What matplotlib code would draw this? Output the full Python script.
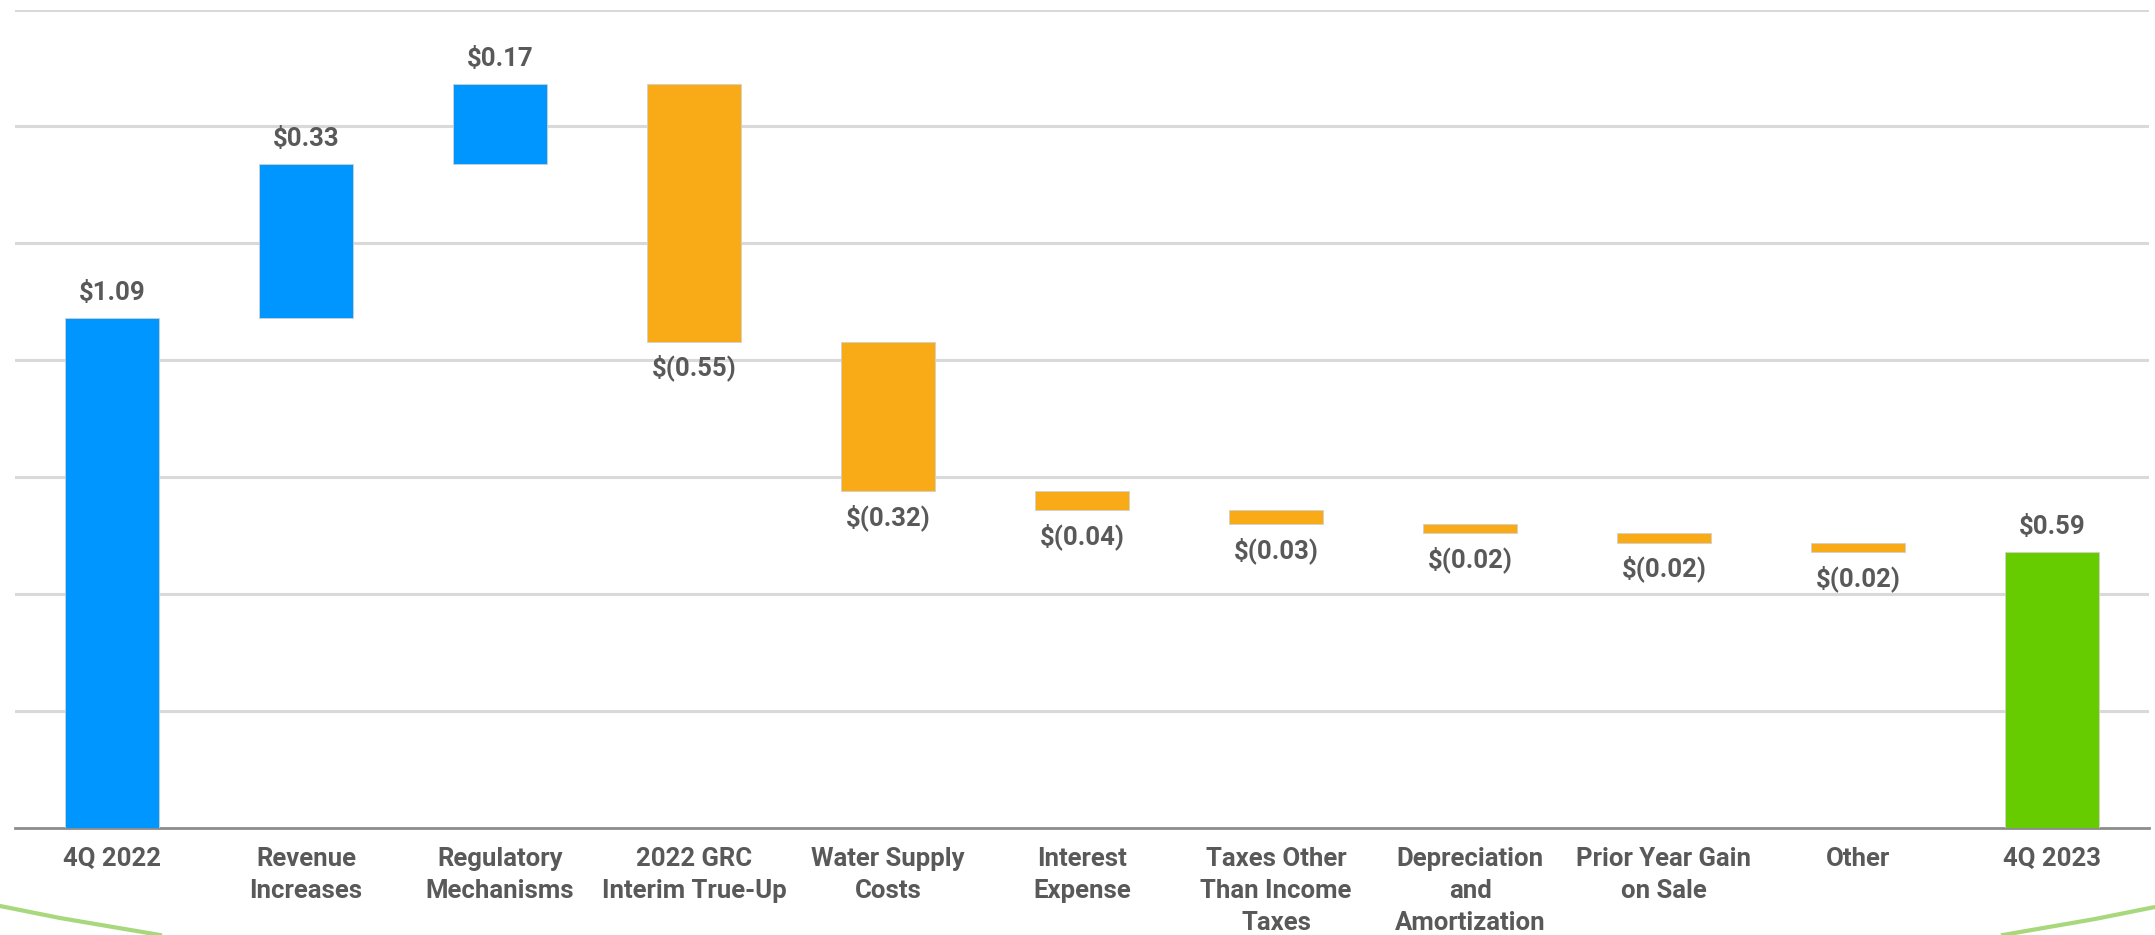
import numpy as np
import matplotlib.pyplot as plt
from matplotlib.lines import Line2D

# EPS bridge, 4Q 2022 -> 4Q 2023
categories = ["4Q 2022", "Revenue\nIncreases", "Regulatory\nMechanisms", "2022 GRC\nInterim True-Up",
              "Water Supply\nCosts", "Interest\nExpense", "Taxes Other\nThan Income\nTaxes",
              "Depreciation\nand\nAmortization", "Prior Year Gain\non Sale", "Other", "4Q 2023"]
start_value = 1.09
deltas = [0.33, 0.17, -0.55, -0.32, -0.04, -0.03, -0.02, -0.02, -0.02]
end_value = 0.59

BLUE = "#0096FF"
ORANGE = "#F9AB17"
GREEN = "#66CC00"
TEXT = "#595959"

plt.rcParams['font.family'] = ['Roboto', 'DejaVu Sans']

fig = plt.figure(figsize=(21.55, 9.35), dpi=100)
ax = fig.add_axes([15 / 2155, 107 / 935, 2134 / 2155, 818.5 / 935])

# build the floating bars
bottoms, heights, colors, labels, above = [], [], [], [], []
bottoms.append(0); heights.append(start_value); colors.append(BLUE)
labels.append(f"${start_value:.2f}"); above.append(True)
level = start_value
for d in deltas:
    new = level + d
    bottoms.append(min(level, new))
    heights.append(abs(d))
    if d >= 0:
        colors.append(BLUE); labels.append(f"${d:.2f}"); above.append(True)
    else:
        colors.append(ORANGE); labels.append(f"$({-d:.2f})"); above.append(False)
    level = new
bottoms.append(0); heights.append(end_value); colors.append(GREEN)
labels.append(f"${end_value:.2f}"); above.append(True)

x = np.arange(len(categories))
ax.bar(x, heights, bottom=bottoms, width=0.48, color=colors, edgecolor="#d0d0d0",
       linewidth=0.6, zorder=3)

for xi, b, h, lab, up in zip(x, bottoms, heights, labels, above):
    if up:
        ax.annotate(lab, (xi, b + h), xytext=(0, 18), textcoords="offset points",
                    ha="center", va="center", fontsize=18.5, fontweight="bold", color=TEXT)
    else:
        ax.annotate(lab, (xi, b), xytext=(0, -19), textcoords="offset points",
                    ha="center", va="center", fontsize=18.5, fontweight="bold", color=TEXT)

ax.set_xlim(-0.5, len(categories) - 0.5)
ax.set_ylim(0, 1.75)
ax.set_yticks(np.arange(0.25, 1.76, 0.25))
ax.yaxis.grid(True, color="#D9D9D9", linewidth=2.2, zorder=0)
ax.tick_params(axis="y", left=False, labelleft=False)
ax.tick_params(axis="x", length=0, pad=14)
ax.set_xticks(x)
ax.set_xticklabels(categories, fontsize=18.5, fontweight="bold", color=TEXT, linespacing=1.42,
                   va="top")
for side in ("top", "right", "left"):
    ax.spines[side].set_visible(False)
ax.spines["bottom"].set_color("#8C8C8C")
ax.spines["bottom"].set_linewidth(2)

# green slide accents in the bottom corners
fig.add_artist(Line2D([0, 60 / 2155, 160 / 2155], [29 / 935, 17 / 935, 0],
                      transform=fig.transFigure, color="#A8D87C", linewidth=3))
fig.add_artist(Line2D([2003 / 2155, 2095 / 2155, 1], [0, 16 / 935, 28 / 935],
                      transform=fig.transFigure, color="#A8D87C", linewidth=3))

fig.savefig("out.png", dpi=100)
